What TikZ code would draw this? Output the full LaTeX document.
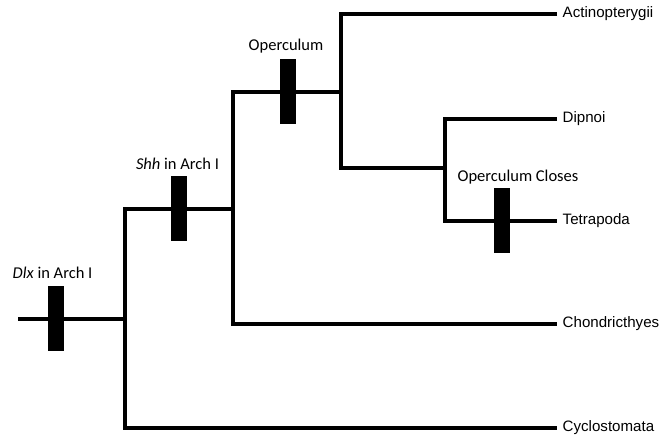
\documentclass[tikz,border=0pt]{standalone}
\usepackage{fontspec}
\newfontfamily\traitfont{Carlito}
\newfontfamily\taxonfont{Liberation Sans}
\usetikzlibrary{positioning}

\begin{document}
\begin{tikzpicture}[
    x=1pt, y=-1pt,
    tree_line/.style={black, line width=4.8pt},
    trait_bar/.style={rectangle, fill=black, inner sep=0pt, minimum width=16pt, minimum height=65pt},
    trait_label/.style={inner sep=0pt, anchor=base, font=\traitfont\fontsize{16.5}{19}\selectfont},
    taxon_label/.style={inner sep=0pt, font=\taxonfont\fontsize{15.1}{18}\selectfont}
]
    \useasboundingbox (0,0) rectangle (662,438);

    % ======================================================================
    % VERZWEIGUNGEN
    % ======================================================================
    \coordinate (root) at (18,319);
    \coordinate (n1) at (125,319);
    \coordinate (n2) at (233,209);
    \coordinate (n3) at (341,92);
    \coordinate (n4) at (445,168);

    % Enden der Aeste
    \coordinate (tActino) at (557,14);
    \coordinate (tDipnoi) at (557,119);
    \coordinate (tTetra) at (557,221);
    \coordinate (tChond) at (557,324);
    \coordinate (tCyclo) at (557,428);

    % Aeste
    \draw[tree_line] (root) -- (n1);
    \draw[tree_line] (n2) -| (n1) |- (tCyclo);
    \draw[tree_line] (n3) -| (n2) |- (tChond);
    \draw[tree_line] (tActino) -| (n3) |- (n4);
    \draw[tree_line] (tDipnoi) -| (n4) |- (tTetra);

    % ======================================================================
    % MERKMALE
    % ======================================================================
    \node[trait_bar] (dlxbar) at (55.5,319) {};
    \node[trait_bar] (shhbar) at (178.5,209) {};
    \node[trait_bar] (opbar) at (288,92) {};
    \node[trait_bar] (closebar) at (502,221) {};

    \node[trait_label] (dlx) at ([xshift=-3pt, yshift=8pt]dlxbar.north) {\textit{Dlx} in Arch I};
    \node[trait_label] (shh) at ([xshift=-1pt, yshift=7pt]shhbar.north) {\textit{Shh} in Arch I};
    \node[trait_label] (op) at ([xshift=-2pt, yshift=9pt]opbar.north) {Operculum};
    \node[trait_label] (close) at ([xshift=16pt, yshift=7pt]closebar.north) {Operculum Closes};

    % ======================================================================
    % TAXA
    % ======================================================================
    \node[taxon_label, right=5.5pt of tActino] (actino) {Actinopterygii};
    \node[taxon_label, right=5.5pt of tDipnoi] (dipnoi) {Dipnoi};
    \node[taxon_label, right=5.5pt of tTetra] (tetra) {Tetrapoda};
    \node[taxon_label, right=5.5pt of tChond] (chond) {Chondricthyes};
    \node[taxon_label, right=5.5pt of tCyclo] (cyclo) {Cyclostomata};

\end{tikzpicture}
\end{document}
